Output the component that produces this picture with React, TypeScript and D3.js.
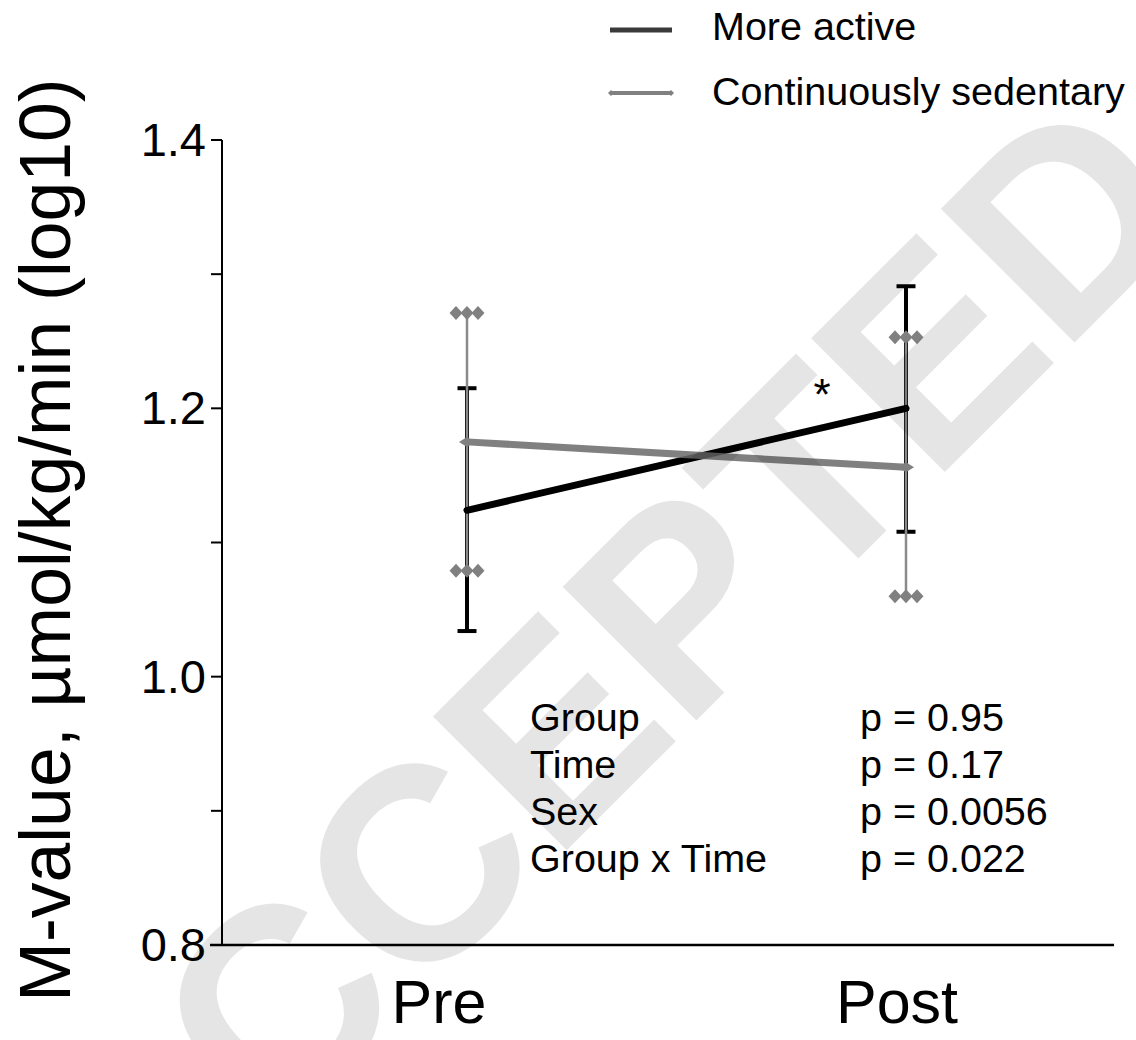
import React from "react";
import * as d3 from "d3";

const times = ["Pre", "Post"];
const groupNames = ["More active", "Continuously sedentary"];
const moreActiveMean = [1.124, 1.2];
const moreActiveUpper = [1.215, 1.291];
const moreActiveLower = [1.034, 1.108];
const sedentaryMean = [1.175, 1.156];
const sedentaryUpper = [1.271, 1.253];
const sedentaryLower = [1.079, 1.06];
const yTicks = [0.8, 0.9, 1.0, 1.1, 1.2, 1.3, 1.4];
const yTickLabels = ["0.8", "", "1.0", "", "1.2", "", "1.4"];
const statTerms = ["Group", "Time", "Sex", "Group x Time"];
const statPs = ["p = 0.95", "p = 0.17", "p = 0.0056", "p = 0.022"];
const yTitle = "M-value, µmol/kg/min (log10)";
const watermark = "ACCEPTED";

const W = 1136;
const H = 1040;
const FONT = "'Liberation Sans', Arial, Helvetica, sans-serif";
const AX = 222;
const GRAY = "#808080";

const diamond = (w: number, h: number) => `M0,${-h}L${w},0L0,${h}L${-w},0Z`;

export default function App() {
  const y = d3.scaleLinear().domain([0.8, 1.4]).range([945, 140]);
  const x = d3.scalePoint<string>().domain(times).range([467, 906]);
  const xLabel = d3.scalePoint<string>().domain(times).range([439, 897]);
  const line = d3
    .line<number>()
    .x((_, i) => x(times[i]) as number)
    .y((d) => y(d));

  const capTriplet = (cx: number, cy: number, key: string) => (
    <g key={key}>
      {[-11, 0, 11].map((o) => (
        <path key={o} d={diamond(6.5, 7)} transform={`translate(${cx + o},${cy})`} fill={GRAY} />
      ))}
    </g>
  );

  return (
    <svg
      width={W}
      height={H}
      style={{ position: "absolute", left: 0, top: 0, background: "#fff" }}
      fontFamily={FONT}
    >
      <rect width={W} height={H} fill="#fff" />
      {/* y axis */}
      <line x1={AX} x2={AX} y1={y(1.4)} y2={y(0.8)} stroke="#000" strokeWidth={2} />
      {yTicks.map((t, i) => (
        <g key={t}>
          <line x1={AX - 11} x2={AX} y1={y(t)} y2={y(t)} stroke="#000" strokeWidth={2} />
          {yTickLabels[i] && (
            <text x={206} y={y(t)} dy={16} textAnchor="end" fontSize={47} fill="#000">
              {yTickLabels[i]}
            </text>
          )}
        </g>
      ))}
      {/* x axis */}
      <line x1={AX - 12} x2={1114} y1={y(0.8)} y2={y(0.8)} stroke="#000" strokeWidth={2.5} />
      {times.map((t) => (
        <text key={t} x={xLabel(t)} y={1023} textAnchor="middle" fontSize={61} fill="#000">
          {t}
        </text>
      ))}
      <text
        transform={`translate(70,540) rotate(-90)`}
        textAnchor="middle"
        fontSize={71.5}
        fill="#000"
      >
        {yTitle}
      </text>

      {/* black error bars */}
      {times.map((t, i) => {
        const cx = x(t) as number;
        return (
          <g key={"be" + t}>
            <line x1={cx} x2={cx} y1={y(moreActiveUpper[i])} y2={y(moreActiveLower[i])} stroke="#000" strokeWidth={4} />
            <line x1={cx - 9.5} x2={cx + 9.5} y1={y(moreActiveUpper[i])} y2={y(moreActiveUpper[i])} stroke="#000" strokeWidth={4} />
            <line x1={cx - 9.5} x2={cx + 9.5} y1={y(moreActiveLower[i])} y2={y(moreActiveLower[i])} stroke="#000" strokeWidth={4} />
          </g>
        );
      })}
      {/* gray error bars */}
      {times.map((t, i) => {
        const cx = x(t) as number;
        return (
          <g key={"ge" + t}>
            <line x1={cx} x2={cx} y1={y(sedentaryUpper[i])} y2={y(sedentaryLower[i])} stroke="#8a8a8a" strokeWidth={2.5} />
            {capTriplet(cx, y(sedentaryUpper[i]), "u")}
            {capTriplet(cx, y(sedentaryLower[i]), "l")}
          </g>
        );
      })}
      {/* lines */}
      <path d={line(moreActiveMean) as string} fill="none" stroke="#000" strokeWidth={7} strokeLinecap="round" />
      <path d={line(sedentaryMean) as string} fill="none" stroke="#6a6a6a" strokeOpacity={0.85} strokeWidth={7} />
      {times.map((t, i) => (
        <path key={"gm" + t} d={diamond(8, 5)} transform={`translate(${x(t)},${y(sedentaryMean[i])})`} fill={GRAY} />
      ))}
      <text x={(x("Post") as number) - 84} y={y(moreActiveMean[1]) + 2} textAnchor="middle" fontSize={44} fill="#000">
        *
      </text>

      {/* stats */}
      {statTerms.map((s, i) => (
        <g key={s}>
          <text x={530} y={731 + i * 47} fontSize={39.5} fill="#000">
            {s}
          </text>
          <text x={860} y={731 + i * 47} fontSize={39.5} fill="#000">
            {statPs[i]}
          </text>
        </g>
      ))}

      {/* legend */}
      <line x1={610} x2={672} y1={30} y2={30} stroke="#3a3a3a" strokeWidth={5} />
      <text x={712} y={40} fontSize={39.5} fill="#000">
        {groupNames[0]}
      </text>
      <line x1={612} x2={670} y1={93} y2={93} stroke={GRAY} strokeWidth={4} />
      <path d={diamond(3, 3)} transform="translate(611,93)" fill={GRAY} />
      <path d={diamond(3, 3)} transform="translate(671,93)" fill={GRAY} />
      <text x={712} y={105} fontSize={39.5} fill="#000">
        {groupNames[1]}
      </text>

      {/* watermark */}
      <text
        transform="translate(1202,215) rotate(-45)"
        textAnchor="end"
        fontSize={275}
        fontWeight="bold"
        fill="#000"
        fillOpacity={0.1}
        style={{ fontKerning: "none" }}
      >
        {watermark}
      </text>
    </svg>
  );
}
